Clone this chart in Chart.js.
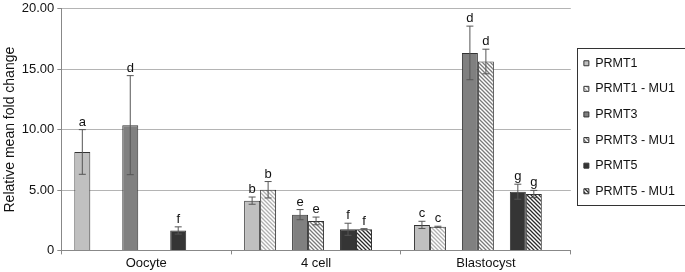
<!DOCTYPE html>
<html lang="en">
<head>
  <meta charset="UTF-8">
  <title>Relative mean fold change</title>
  <script src="https://cdn.jsdelivr.net/npm/chart.js"></script>
  <style>
    body { margin: 0; background: #fff; }
    canvas { display: block; }
  </style>
</head>
<body>
  <canvas id="grafico" width="685" height="272"></canvas>
  <script>
    // categorias e valores
    const categorias = ["Oocyte", "4 cell", "Blastocyst"];
    const series = ["PRMT1", "PRMT1 - MU1", "PRMT3", "PRMT3 - MU1", "PRMT5", "PRMT5 - MU1"];

    const prmt1      = [8.15, 4.12, 2.11];
    const prmt1Mu1   = [null, 5.02, 1.95];
    const prmt3      = [10.37, 2.96, 16.35];
    const prmt3Mu1   = [null, 2.44, 15.64];
    const prmt5      = [1.65, 1.75, 4.86];
    const prmt5Mu1   = [null, 1.75, 4.67];

    const errPrmt1    = [1.85, 0.3, 0.3];
    const errPrmt1Mu1 = [null, 0.68, 0.05];
    const errPrmt3    = [4.1, 0.42, 2.22];
    const errPrmt3Mu1 = [null, 0.32, 1.02];
    const errPrmt5    = [0.3, 0.5, 0.62];
    const errPrmt5Mu1 = [null, 0.05, 0.3];

    const letrasPrmt1    = ["a", "b", "c"];
    const letrasPrmt1Mu1 = [null, "b", "c"];
    const letrasPrmt3    = ["d", "e", "d"];
    const letrasPrmt3Mu1 = [null, "e", "d"];
    const letrasPrmt5    = ["f", "f", "g"];
    const letrasPrmt5Mu1 = [null, "f", "g"];

    const yTicks = [0, 5, 10, 15, 20];

    // hachura diagonal "\\\\"
    function hachura(cor) {
      const s = 4;
      const c = document.createElement("canvas");
      c.width = s; c.height = s;
      const g = c.getContext("2d");
      g.fillStyle = "#fff";
      g.fillRect(0, 0, s, s);
      g.strokeStyle = cor;
      g.lineWidth = 1.3;
      g.beginPath();
      g.moveTo(-1, -1); g.lineTo(s + 1, s + 1);
      g.moveTo(-1, s - 1); g.lineTo(1, s + 1);
      g.moveTo(s - 1, -1); g.lineTo(s + 1, 1);
      g.stroke();
      return g.createPattern(c, "repeat");
    }

    const vazio = [null, null, null];
    const borda = "#333";
    const datasets = [
      { label: series[0], data: prmt1, erros: errPrmt1, letras: letrasPrmt1, backgroundColor: "#c0c0c0" },
      { label: series[1], data: prmt1Mu1, erros: errPrmt1Mu1, letras: letrasPrmt1Mu1, backgroundColor: hachura("#b0b0b0") },
      { label: "_gap1", data: vazio },
      { label: series[2], data: prmt3, erros: errPrmt3, letras: letrasPrmt3, backgroundColor: "#808080" },
      { label: series[3], data: prmt3Mu1, erros: errPrmt3Mu1, letras: letrasPrmt3Mu1, backgroundColor: hachura("#7a7a7a") },
      { label: "_gap2", data: vazio },
      { label: series[4], data: prmt5, erros: errPrmt5, letras: letrasPrmt5, backgroundColor: "#353535" },
      { label: series[5], data: prmt5Mu1, erros: errPrmt5Mu1, letras: letrasPrmt5Mu1, backgroundColor: hachura("#2a2a2a") },
      { label: "_gap3", data: vazio }
    ].map(d => Object.assign({ borderColor: borda, borderWidth: 1 }, d));

    // barras de erro e letras
    const errorBars = {
      id: "errorBars",
      afterDatasetsDraw(chart) {
        const ctx = chart.ctx;
        const y = chart.scales.y;
        ctx.save();
        chart.data.datasets.forEach((ds, i) => {
          if (!ds.erros) return;
          const meta = chart.getDatasetMeta(i);
          meta.data.forEach((bar, j) => {
            const v = ds.data[j];
            if (v == null) return;
            const e = ds.erros[j] || 0;
            const top = y.getPixelForValue(v + e);
            const bot = y.getPixelForValue(v - e);
            ctx.strokeStyle = "#555";
            ctx.lineWidth = 1;
            ctx.beginPath();
            ctx.moveTo(bar.x, top); ctx.lineTo(bar.x, bot);
            ctx.moveTo(bar.x - 3.5, top); ctx.lineTo(bar.x + 3.5, top);
            ctx.moveTo(bar.x - 3.5, bot); ctx.lineTo(bar.x + 3.5, bot);
            ctx.stroke();
            if (ds.letras && ds.letras[j]) {
              ctx.fillStyle = "#111";
              ctx.font = "13px 'Liberation Sans', Arial, sans-serif";
              ctx.textAlign = "center";
              ctx.textBaseline = "alphabetic";
              ctx.fillText(ds.letras[j], bar.x, top - 4);
            }
          });
        });
        ctx.restore();
      }
    };

    // moldura da legenda
    const legendBox = {
      id: "legendBox",
      afterDraw(chart) {
        const lg = chart.legend;
        const hb = lg.legendHitBoxes;
        if (!hb || !hb.length) return;
        const ctx = chart.ctx;
        const left = lg.left + 6.5;
        const top = hb[0].top - 9;
        const bottom = hb[hb.length - 1].top + 20;
        ctx.save();
        ctx.strokeStyle = "#333";
        ctx.lineWidth = 1;
        ctx.strokeRect(Math.round(left) + 0.5, Math.round(top) + 0.5, chart.width, Math.round(bottom - top));
        ctx.restore();
      }
    };

    Chart.defaults.font.family = "'Liberation Sans', Arial, sans-serif";
    Chart.defaults.color = "#111";

    new Chart(document.getElementById("grafico"), {
      type: "bar",
      data: { labels: categorias, datasets: datasets },
      options: {
        responsive: false,
        animation: false,
        layout: { padding: { top: 0, right: 0, left: 2, bottom: 0 } },
        datasets: { bar: { barPercentage: 1, categoryPercentage: 0.847 } },
        scales: {
          x: {
            grid: { drawOnChartArea: false, tickLength: 4, color: "#888", offset: true },
            border: { color: "#888" },
            ticks: { font: { size: 13 }, padding: 1 }
          },
          y: {
            min: 0, max: 20,
            afterBuildTicks: s => { s.ticks = yTicks.map(v => ({ value: v })); },
            ticks: { font: { size: 13, lineHeight: 0.9 }, padding: 3, callback: v => v === 0 ? "0" : v.toFixed(2) },
            grid: { color: "#b4b4b4", tickLength: 4, tickColor: "#888" },
            border: { color: "#888" },
            title: { display: true, text: "Relative mean fold change", font: { size: 14 }, padding: 0 }
          }
        },
        plugins: {
          tooltip: { enabled: false },
          legend: {
            position: "right",
            align: "start",
            title: { display: true, text: "", font: { size: 10 }, padding: { top: 31.9, bottom: 0 } },
            labels: {
              boxWidth: 5, boxHeight: 5, padding: 13.1,
              font: { size: 12.5 },
              filter: item => !item.text.startsWith("_gap")
            }
          }
        }
      },
      plugins: [errorBars, legendBox]
    });
  </script>
</body>
</html>
